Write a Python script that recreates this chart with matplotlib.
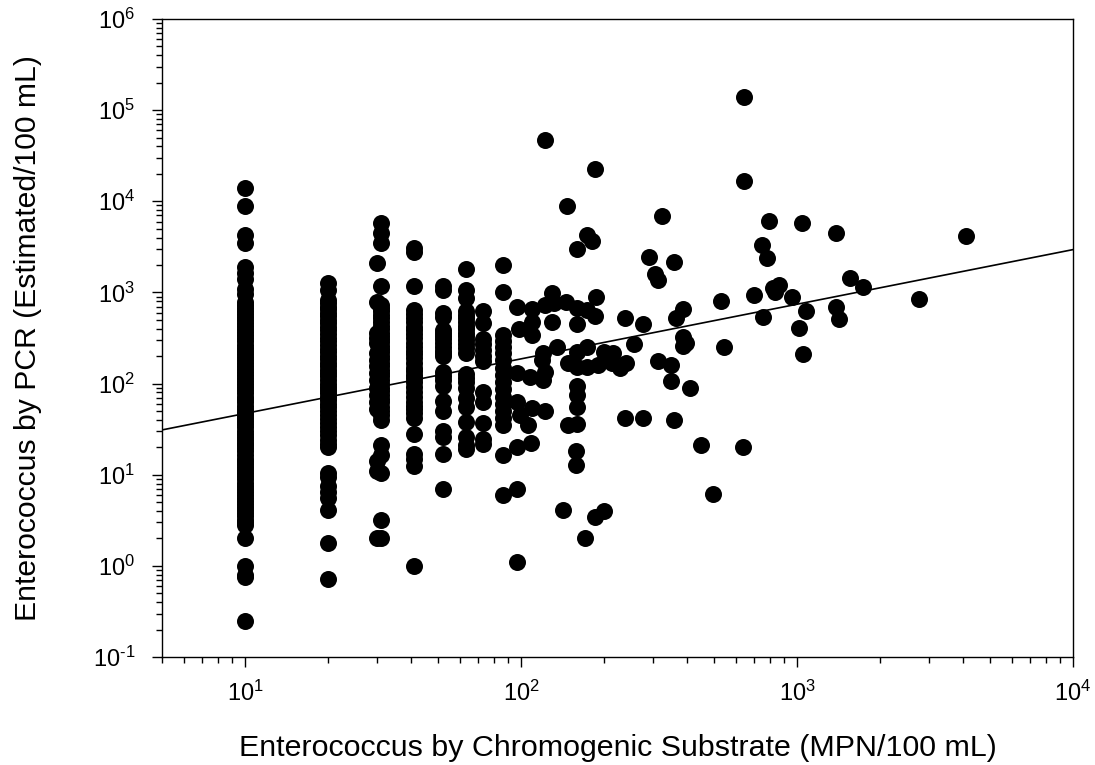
import matplotlib
matplotlib.use('Agg')
import matplotlib.pyplot as plt
from matplotlib.ticker import LogLocator, FuncFormatter, NullFormatter
import math

plt.rcParams['font.family'] = ['Liberation Sans', 'DejaVu Sans']
plt.rcParams['mathtext.default'] = 'regular'
plt.rcParams['axes.unicode_minus'] = False

# vertical columns of the chart, x value is the same for each
col_10 = [0.25, 0.75, 0.8, 1.0, 2.0, 2.8, 3.0, 3.2, 3.5, 3.8, 4.1, 4.4, 4.8, 5.2, 5.6, 6, 6.5, 7, 7.6, 8.2, 8.9,
          9.6, 10.4, 11.2, 12, 13, 14, 15, 16.5, 18, 19.5, 21, 22.5, 24, 26, 28, 30, 33, 36, 39, 42, 45, 49, 53,
          57, 62, 67, 72, 78, 84, 91, 98, 106, 115, 124, 134, 145, 156, 168, 182, 197, 212, 230, 248, 268, 290,
          313, 338, 365, 395, 426, 460, 500, 540, 580, 630, 680, 730, 780, 950, 1100, 1400, 1650, 1900, 3480, 4300,
          8800, 14000]
col_20 = [0.72, 1.8, 4.1, 5.5, 6.5, 7.5, 9.5, 10.5, 20, 22, 24, 27, 30, 33, 37, 41, 45, 50, 55, 60, 66, 72, 78, 85,
          92, 100, 110, 120, 130, 140, 155, 170, 185, 200, 220, 240, 265, 290, 320, 350, 385, 420, 460, 500, 550,
          600, 650, 700, 760, 830, 1050, 1270]
col_30 = [2.0, 11, 14, 52, 62, 75, 90, 110, 130, 155, 182, 215, 278, 320, 359, 785, 2100]
col_31 = [2.0, 3.2, 10.5, 16.5, 21, 40, 45, 50, 56, 62, 68, 75, 82, 90, 100, 110, 120, 130, 142, 155, 170, 185, 200,
          220, 240, 260, 285, 310, 335, 360, 395, 430, 475, 520, 570, 620, 670, 730, 1175, 3480, 4490, 5790]
col_41 = [1.0, 12.4, 15, 17, 28, 42, 47, 52, 57, 63, 71, 80, 92, 105, 115, 125, 137, 150, 170, 190, 210, 230, 255,
          280, 315, 350, 385, 420, 470, 520, 580, 640, 1170, 2780, 3060]
col_52 = [6.9, 17, 26, 30, 50, 65, 95, 110, 120, 135, 200, 215, 230, 255, 280, 305, 330, 360, 390, 540, 600, 1050, 1170]
col_63 = [19, 21, 26, 38, 55, 69, 90, 105, 115, 128, 215, 245, 270, 300, 330, 360, 395, 430, 475, 520, 570, 620, 870,
          1070, 1830]
col_73 = [21.5, 24.5, 37, 62, 80, 175, 200, 235, 270, 305, 465, 630]
col_86 = [6, 16.3, 35, 42, 50, 60, 72, 88, 105, 125, 150, 180, 215, 250, 290, 340, 1000, 2000]

# scattered points right of the columns
other_x = [97, 110, 122, 130, 132, 146, 160, 173, 187, 185, 160, 130, 110, 98, 110, 135, 120, 119, 173, 159,
           148, 160, 173, 190, 199, 215, 213, 228, 240, 314, 350, 348, 410, 257, 239, 277, 364, 385, 385, 397,
           385, 530, 542, 700, 753, 818, 861, 832, 960, 1080, 1016, 1052, 1383, 1419, 1556, 1734, 1383, 1042,
           793, 747, 778, 358, 324, 291, 306, 313, 173, 181, 160, 147, 122, 185, 643, 641, 2767, 4096,
           239, 277, 358, 449, 637, 497, 158, 158, 148, 160, 159, 159, 160, 120, 122, 97, 110, 122, 99, 106,
           97, 109, 97, 97, 108, 142, 185, 200, 171, 97]
other_y = [692, 658, 728, 986, 766, 785, 675, 641, 891, 551, 451, 473, 473, 397, 341, 251, 216, 181, 251, 222,
           168, 152, 152, 160, 222, 216, 168, 148, 168, 177, 160, 107, 89, 272, 524, 451, 524, 658, 324, 279,
           258, 805, 251, 938, 537, 1119, 1205, 1011, 891, 625, 407, 211, 692, 511, 1439, 1148, 4487, 5780,
           6081, 3311, 2388, 2158, 6890, 2449, 1592, 1368, 4266, 3664, 2992, 8870, 47000, 22600, 139000, 16700,
           847, 4159, 42, 42, 40, 21, 20, 6.2, 18, 12.8, 35, 36, 55, 75, 94, 110, 135, 63, 54, 50, 45, 35,
           20, 22.5, 7, 130, 118, 4.1, 3.4, 4, 2.0, 1.1]

line_x = [5, 10000]
line_y = [31, 2950]

columns = [(10, col_10), (20, col_20), (30, col_30), (31, col_31), (41, col_41),
           (52, col_52), (63, col_63), (73, col_73), (86, col_86)]


def power_label(val, pos):
    # hyphen rather than a long minus in 10^-1
    exp = int(round(math.log10(val)))
    return '10$^{%s}$' % str(exp).replace('-', '\u2010')


fig = plt.figure(figsize=(10.95, 7.65), dpi=100)
ax = fig.add_axes([162 / 1095, 1 - 657 / 765, (1073 - 162) / 1095, (657 - 19) / 765])

for x_val, ys in columns:
    ax.scatter([x_val] * len(ys), ys, s=150, color='black', linewidths=0, zorder=3, clip_on=False)
ax.scatter(other_x, other_y, s=150, color='black', linewidths=0, zorder=3, clip_on=False)
ax.plot(line_x, line_y, color='black', lw=1.2, zorder=2)

ax.set_xscale('log')
ax.set_yscale('log')
ax.set_xlim(5, 10000)
ax.set_ylim(0.1, 1e6)

for axis in (ax.xaxis, ax.yaxis):
    axis.set_major_locator(LogLocator(base=10, numticks=12))
    axis.set_minor_locator(LogLocator(base=10, subs=range(2, 10), numticks=12))
    axis.set_major_formatter(FuncFormatter(power_label))
    axis.set_minor_formatter(NullFormatter())

ax.tick_params(which='major', length=7.2, width=1, labelsize=17, pad=12)
ax.tick_params(which='minor', length=4.5, width=1)
ax.tick_params(axis='x', pad=10)
for sp in ax.spines.values():
    sp.set_linewidth(1)

ax.set_xlabel('Enterococcus by Chromogenic Substrate (MPN/100 mL)', fontsize=21.9, va='center')
ax.set_ylabel('Enterococcus by PCR (Estimated/100 mL)', fontsize=21.7, va='center')
ax.xaxis.set_label_coords(0.5, -0.143)
ax.yaxis.set_label_coords(-0.147, 0.5005)

fig.savefig('out.png', dpi=100)
